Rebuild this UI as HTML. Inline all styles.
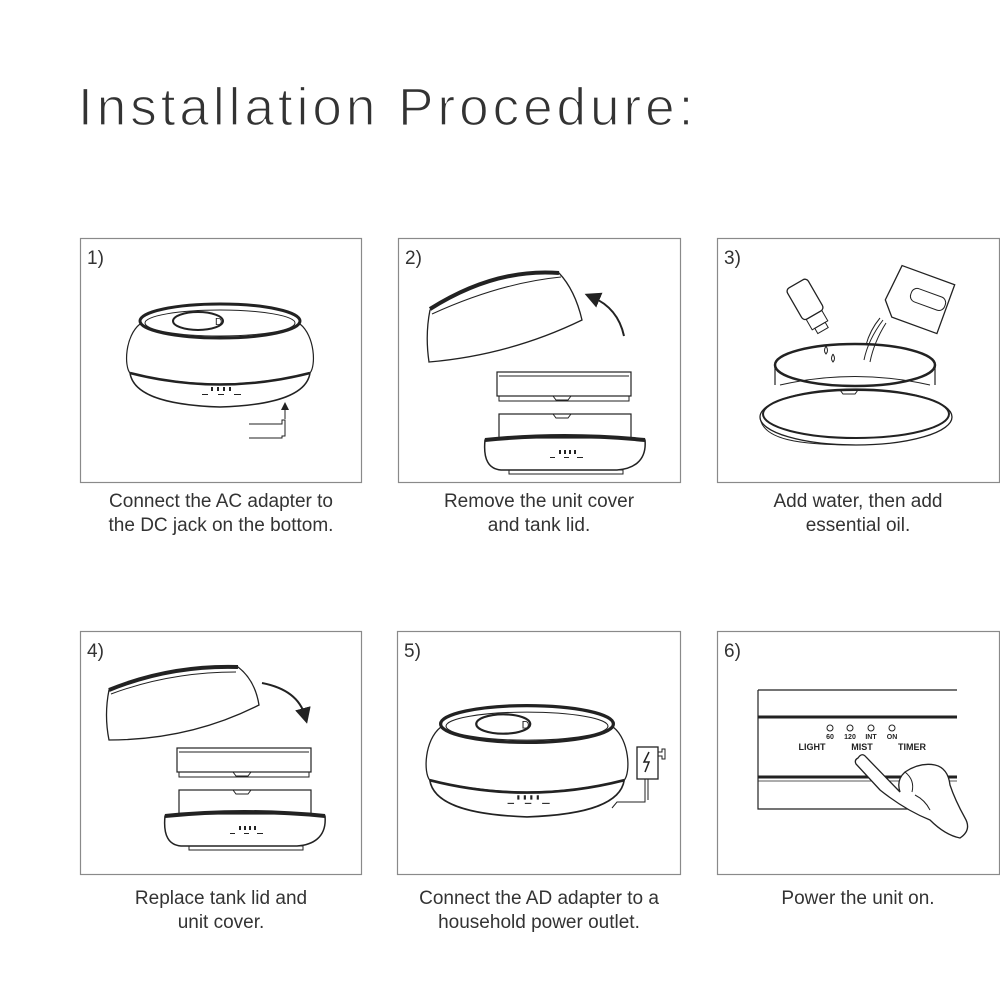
<!DOCTYPE html>
<html><head><meta charset="utf-8"><style>
body{margin:0;background:#fff;}
svg{display:block;}
text{font-family:"Liberation Sans",sans-serif;}
</style></head><body>
<svg width="1000" height="1000" viewBox="0 0 1000 1000" xmlns="http://www.w3.org/2000/svg">
<defs>
<g id="dev">
 <ellipse cx="0" cy="0" rx="80" ry="17" fill="none" stroke="#222" stroke-width="3"/>
 <ellipse cx="0" cy="2" rx="75" ry="13" fill="none" stroke="#222" stroke-width="1"/>
 <ellipse cx="-22" cy="0" rx="25" ry="9" fill="none" stroke="#222" stroke-width="2"/>
 <text x="-5" y="4" font-size="10" fill="#222">D</text>
 <path d="M-80,3 C-95,15 -96,45 -90,52 Q0,74 90,52 C96,45 95,15 80,3" fill="none" stroke="#222" stroke-width="1.2"/>
 <path d="M-90,52 Q0,75 90,52" fill="none" stroke="#222" stroke-width="2.5"/>
 <path d="M-90,52 C-87,72 -60,84 0,86 C60,84 87,72 90,52" fill="none" stroke="#222" stroke-width="1.5"/>
 <g fill="#222"><rect x="-9" y="66" width="2" height="4"/><rect x="-3" y="66" width="2" height="4"/><rect x="3" y="66" width="2" height="4"/><rect x="9" y="66" width="2" height="4"/>
 <rect x="-18" y="73" width="6" height="1"/><rect x="-2" y="73" width="6" height="1"/><rect x="14" y="73" width="7" height="1"/></g>
</g>
<g id="tankbase">
 <rect x="0" y="0" width="134" height="24" fill="none" stroke="#222" stroke-width="1.2"/>
 <path d="M2,4 H132" stroke="#222" stroke-width="1"/>
 <rect x="2" y="24" width="130" height="5" fill="none" stroke="#222" stroke-width="1"/>
 <path d="M56,24 l3,4 h12 l3,-4" fill="none" stroke="#222"/>
 <rect x="2" y="42" width="132" height="24" fill="none" stroke="#222" stroke-width="1.2"/>
 <path d="M56,42 l3,4 h12 l3,-4" fill="none" stroke="#222"/>
 <path d="M-12,68 Q67,60 148,68 C150,90 135,97 120,98 H4 C-8,97 -14,88 -12,68 Z" fill="none" stroke="#222" stroke-width="1.5"/>
 <path d="M-12,68 Q67,60 148,68" fill="none" stroke="#222" stroke-width="4"/>
 <rect x="12" y="98" width="114" height="4" fill="none" stroke="#222"/>
 <g fill="#222"><rect x="62" y="78" width="2" height="4"/><rect x="67" y="78" width="2" height="4"/><rect x="72" y="78" width="2" height="4"/><rect x="77" y="78" width="2" height="4"/>
 <rect x="53" y="85" width="5" height="1"/><rect x="67" y="85" width="5" height="1"/><rect x="80" y="85" width="6" height="1"/></g>
</g>
<marker id="ah" markerWidth="8" markerHeight="8" refX="4" refY="4" orient="auto"><path d="M0,0 L8,4 L0,8 Z" fill="#222"/></marker>
</defs>

<text x="78" y="125" font-size="53" fill="#333" stroke="#fff" stroke-width="1.3" style="letter-spacing:4px">Installation Procedure:</text>

<g fill="none" stroke="#8a8a8a" stroke-width="1.2">
<rect x="80.5" y="238.5" width="281" height="244"/>
<rect x="398.5" y="238.5" width="282" height="244"/>
<rect x="717.5" y="238.5" width="282" height="244"/>
<rect x="80.5" y="631.5" width="281" height="243"/>
<rect x="397.5" y="631.5" width="283" height="243"/>
<rect x="717.5" y="631.5" width="282" height="243"/>
</g>
<g font-size="19" fill="#333">
<text x="87" y="264">1)</text><text x="405" y="264">2)</text><text x="724" y="264">3)</text>
<text x="87" y="657">4)</text><text x="404" y="657">5)</text><text x="724" y="657">6)</text>
</g>

<!-- box1 -->
<use href="#dev" transform="translate(220,321)"/>
<path d="M285,419 V406" stroke="#222" marker-end="url(#ah)"/>
<path d="M249,424 H282 V420 h3 V436 h-3 V438 H249" fill="none" stroke="#222"/>

<!-- box2 -->
<path d="M430,310 Q495,268 559,273 Q575,290 582,320 Q510,355 429,362 Q425,335 430,310 Z" fill="none" stroke="#222" stroke-width="1.3"/>
<path d="M430,309 Q495,268 559,273" fill="none" stroke="#222" stroke-width="4"/>
<path d="M432,314 Q500,283 561,277" fill="none" stroke="#222" stroke-width="1"/>
<path d="M624,336 Q618,308 592,297" fill="none" stroke="#222" stroke-width="2" marker-end="url(#ah)"/>
<use href="#tankbase" transform="translate(497,372)"/>

<!-- box3 -->
<ellipse cx="856" cy="417" rx="96" ry="28" fill="none" stroke="#222" stroke-width="1.3"/>
<ellipse cx="856" cy="414" rx="93" ry="24" fill="none" stroke="#222" stroke-width="2"/>
<path d="M760,417 C762,440 800,445 856,445" fill="none" stroke="#222"/>
<ellipse cx="855" cy="365" rx="80" ry="21" fill="none" stroke="#222" stroke-width="2.5"/>
<path d="M775,366 V385 M935,366 V385" stroke="#222" stroke-width="1.2"/>
<path d="M780,385 Q855,368 930,385" fill="none" stroke="#222"/>
<path d="M840,390 l3,4 h12 l3,-4" fill="none" stroke="#222"/>
<g transform="translate(810,308) rotate(-30)">
<rect x="-12" y="-28" width="24" height="36" rx="4" fill="none" stroke="#222" stroke-width="1.3"/>
<rect x="-9" y="8" width="18" height="12" fill="none" stroke="#222"/>
<rect x="-6" y="20" width="12" height="6" fill="none" stroke="#222"/>
</g>
<path d="M826,346 q-3,5 0,8 q3,-3 0,-8 M833,354 q-3,5 0,8 q3,-3 0,-8" fill="none" stroke="#222"/>
<g transform="translate(920,304) rotate(20)">
<path d="M-30,-30 H26 V22 H-22 L-34,8 Z" fill="none" stroke="#222" stroke-width="1.3"/>
<rect x="-12" y="-14" width="36" height="14" rx="6" fill="none" stroke="#222"/>
</g>
<path d="M883,320 Q868,340 864,360 M886,323 Q874,342 870,362 M880,318 Q870,330 866,345" fill="none" stroke="#222"/>

<!-- box4 -->
<path d="M238,667 Q170,665 109,690 Q104,715 109,740 Q190,740 259,705 Q255,680 238,667 Z" fill="none" stroke="#222" stroke-width="1.3"/>
<path d="M238,667 Q170,665 109,690" fill="none" stroke="#222" stroke-width="4"/>
<path d="M236,672 Q170,672 111,694" fill="none" stroke="#222"/>
<path d="M262,683 Q298,690 305,716" fill="none" stroke="#222" stroke-width="2" marker-end="url(#ah)"/>
<use href="#tankbase" transform="translate(177,748)"/>

<!-- box5 -->
<use href="#dev" transform="translate(527,724) scale(1.08)"/>
<rect x="637" y="747" width="21" height="32" fill="none" stroke="#222" stroke-width="1.3"/>
<path d="M658,752 h4 v-3 h3 v10 h-3 v-3 h-4" fill="none" stroke="#222"/>
<path d="M649,752 l-5,10 h5 l-4,10" fill="none" stroke="#222" stroke-width="1.5"/>
<path d="M645,779 V802 H617 L612,808 M648,779 V800" fill="none" stroke="#222"/>

<!-- box6 -->
<path d="M758,690 H957 M758,690 V809 H957" fill="none" stroke="#222" stroke-width="1.2"/>
<path d="M758,717 H957" stroke="#222" stroke-width="3"/>
<path d="M758,777 H957" stroke="#222" stroke-width="3"/>
<path d="M758,781 H957" stroke="#222" stroke-width="0.8"/>
<g fill="none" stroke="#222"><circle cx="830" cy="728" r="3"/><circle cx="850" cy="728" r="3"/><circle cx="871" cy="728" r="3"/><circle cx="892" cy="728" r="3"/></g>
<g font-size="7" font-weight="bold" fill="#222" text-anchor="middle">
<text x="830" y="739">60</text><text x="850" y="739">120</text><text x="871" y="739">INT</text><text x="892" y="739">ON</text>
</g>
<g font-size="9" font-weight="bold" fill="#222" text-anchor="middle">
<text x="812" y="750">LIGHT</text><text x="862" y="750">MIST</text><text x="912" y="750">TIMER</text>
</g>
<path d="M858,758 Q862,752 866,757 L900,792 Q896,780 905,772 Q920,762 935,765 Q948,768 950,785 Q955,800 965,818 Q972,830 960,838 Q945,835 930,820 Q905,810 880,790 L856,764 Q854,760 858,758 Z" fill="#fff" stroke="#222" stroke-width="1.3"/>
<path d="M905,772 Q915,780 912,792 M915,795 Q925,800 930,810" fill="none" stroke="#222"/>

<!-- captions -->
<g font-size="19" fill="#333" text-anchor="middle">
<text x="221" y="507">Connect the AC adapter to</text>
<text x="221" y="531">the DC jack on the bottom.</text>
<text x="539" y="507">Remove the unit cover</text>
<text x="539" y="531">and tank lid.</text>
<text x="858" y="507">Add water, then add</text>
<text x="858" y="531">essential oil.</text>
<text x="221" y="904">Replace tank lid and</text>
<text x="221" y="928">unit cover.</text>
<text x="539" y="904">Connect the AD adapter to a</text>
<text x="539" y="928">household power outlet.</text>
<text x="858" y="904">Power the unit on.</text>
</g>
</svg>
</body></html>
